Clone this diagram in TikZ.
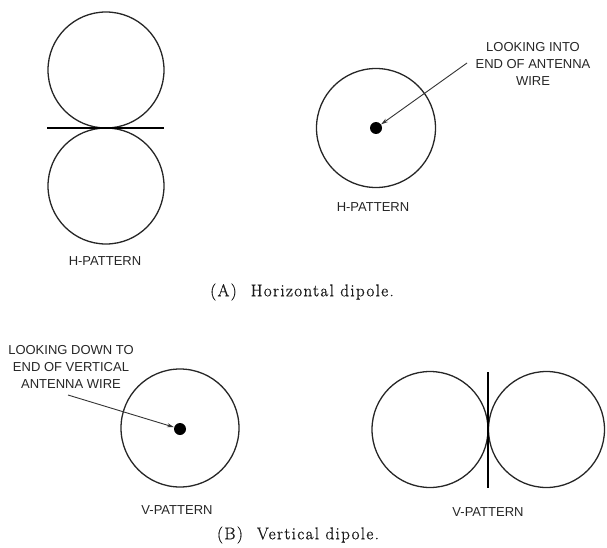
\documentclass[tikz,border=0pt]{standalone}
\usepackage{fontspec}
\newfontfamily\lblfont{Liberation Sans}
\newfontfamily\capfont[LetterSpace=8,FakeBold=0.8]{Latin Modern Roman}
\usetikzlibrary{arrows.meta}
\begin{document}
\begin{tikzpicture}[x=1pt,y=-1pt,
  lobe/.style={draw=black!85,line width=1.3pt},
  wire/.style={draw=black,line width=2pt},
  lbl/.style={font=\lblfont\fontsize{13}{17}\selectfont,text=black!85,inner sep=0pt,align=center},
  captxt/.style={font=\capfont\fontsize{17}{20}\selectfont,text=black!90,inner sep=0pt},
  dotc/.style={circle,fill=black,inner sep=0pt,minimum size=12pt},
  ptr/.style={draw=black!80,line width=0.9pt,-{Stealth[length=7pt,width=4pt]}}]
\useasboundingbox (0,0) rectangle (607,548);
% (A) left: figure eight
\draw[lobe] (106,70) circle[radius=58];
\draw[lobe] (106,186) circle[radius=58];
\coordinate (hl) at (47,128);
\coordinate (hr) at (164,128);
\draw[wire] (hl) -- (hr);
\node[lbl] (hp1) at (105,261) {H-PATTERN};
% (A) right: circle with end of wire
\draw[lobe] (376,128) circle[radius=59.5];
\node[dotc] (d1) at (376,128) {};
\node[lbl] (hp2) at (373,207) {H-PATTERN};
\node[lbl] (t1) at (533,64) {LOOKING INTO\\END OF ANTENNA\\WIRE};
\coordinate (a1) at (467,63);
\draw[ptr] (a1) -- (d1);
\node[captxt] (ca) at (302,292) {(A)\hspace{14pt}Horizontal dipole.};
% (B) left: circle with end of vertical wire
\draw[lobe] (180,428) circle[radius=59];
\node[dotc] (d2) at (180,429) {};
\node[lbl] (vp1) at (177,510) {V-PATTERN};
\node[lbl] (t2) at (71,367) {LOOKING DOWN TO\\END OF VERTICAL\\ANTENNA WIRE};
\coordinate (a2) at (68,395);
\draw[ptr] (a2) -- (d2);
% (B) right: two circles side by side
\draw[lobe] (430,429.5) circle[radius=58];
\draw[lobe] (546.5,429.5) circle[radius=58];
\coordinate (vt) at (488.2,372);
\coordinate (vb) at (488.2,488);
\draw[wire] (vt) -- (vb);
\node[lbl] (vp2) at (488,512) {V-PATTERN};
\node[captxt] (cb) at (298,535) {(B)\hspace{14pt}Vertical dipole.};
\end{tikzpicture}
\end{document}
